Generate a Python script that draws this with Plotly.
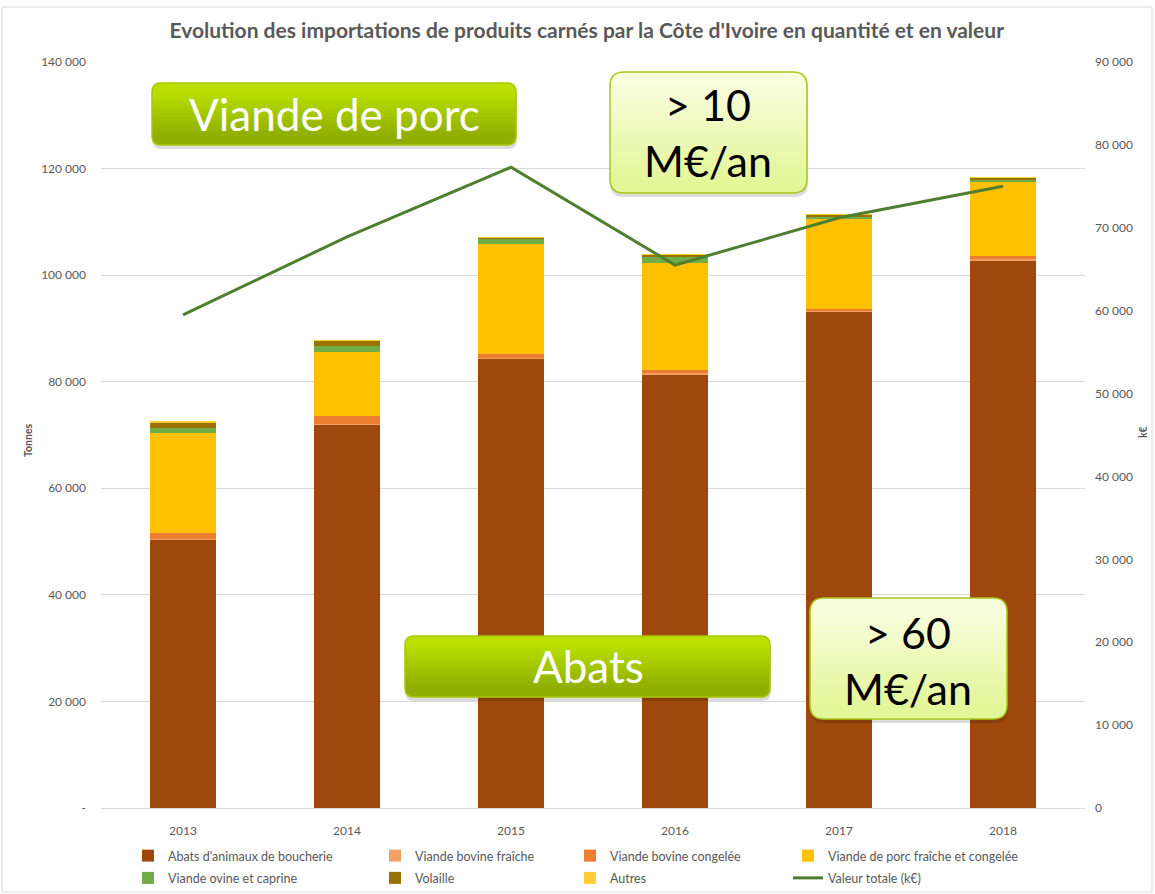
import plotly.graph_objects as go

years = ["2013", "2014", "2015", "2016", "2017", "2018"]
abats = [50300, 71900, 84300, 81400, 93100, 102800]
bovine_fraiche = [150, 200, 150, 150, 100, 150]
bovine_congelee = [1150, 1500, 750, 650, 400, 650]
porc = [18800, 12000, 20600, 20000, 17000, 13900]
ovine = [1000, 1100, 1100, 1300, 400, 300]
volaille = [1000, 1000, 200, 300, 300, 500]
autres = [50, 50, 50, 50, 50, 50]
valeur = [59500, 68900, 77300, 65500, 71200, 75000]

left_ticks = [0, 20000, 40000, 60000, 80000, 100000, 120000, 140000]
left_text = ["-", "20 000", "40 000", "60 000", "80 000", "100 000", "120 000", "140 000"]
right_ticks = [0, 10000, 20000, 30000, 40000, 50000, 60000, 70000, 80000, 90000]
right_text = ["0", "10 000", "20 000", "30 000", "40 000", "50 000", "60 000", "70 000", "80 000", "90 000"]

series = [
    ("Abats d'animaux de boucherie", abats, "#9E480E", "legend"),
    ("Viande bovine fraîche", bovine_fraiche, "#F4A064", "legend2"),
    ("Viande bovine congelée", bovine_congelee, "#ED7D31", "legend3"),
    ("Viande de porc fraîche et congelée", porc, "#FFC000", "legend4"),
    ("Viande ovine et caprine", ovine, "#70AD47", "legend"),
    ("Volaille", volaille, "#997300", "legend2"),
    ("Autres", autres, "#FFCD33", "legend3"),
]

FONT = "Lato, 'Open Sans', 'Liberation Sans', sans-serif"
GRAY = "#595959"

fig = go.Figure()
for name, vals, col, lg in series:
    fig.add_trace(go.Bar(x=years, y=vals, name=name, legend=lg, legendgroup=name,
                         marker=dict(color=col, line=dict(width=0))))
fig.add_trace(go.Scatter(x=years, y=valeur, name="Valeur totale (k€)", mode="lines", legend="legend4",
                         legendgroup="valeur", line=dict(color="#4E7F2E", width=3), yaxis="y2"))

# layout geometry (pixels)
L, R, T, B = 101, 1085, 62, 808
W, H = 1155, 894


def X(px):
    return (px - L) / (R - L)


def Y(py):
    return (B - py) / (B - T)


def rr(x0, y0, x1, y1, r):
    return (f"M {X(x0+r)},{Y(y0)} L {X(x1-r)},{Y(y0)} Q {X(x1)},{Y(y0)} {X(x1)},{Y(y0+r)} "
            f"L {X(x1)},{Y(y1-r)} Q {X(x1)},{Y(y1)} {X(x1-r)},{Y(y1)} L {X(x0+r)},{Y(y1)} "
            f"Q {X(x0)},{Y(y1)} {X(x0)},{Y(y1-r)} L {X(x0)},{Y(y0+r)} Q {X(x0)},{Y(y0)} {X(x0+r)},{Y(y0)} Z")


def hexmix(c1, c2, t):
    a = [int(c1[i:i+2], 16) for i in (1, 3, 5)]
    b = [int(c2[i:i+2], 16) for i in (1, 3, 5)]
    return "#" + "".join(f"{round(a[k] + (b[k]-a[k])*t):02x}" for k in range(3))


shapes = []
shapes.append(dict(type="rect", xref="paper", yref="paper", x0=X(2), x1=X(1152), y0=Y(892), y1=Y(7),
                   line=dict(color="#D9D9D9", width=1), layer="below"))


def box(x0, y0, x1, y1, top, bot, border, r=10):
    shapes.append(dict(type="path", xref="paper", yref="paper", path=rr(x0, y0 + 3, x1 + 1, y1 + 4, r),
                       fillcolor="rgba(0,0,0,0.14)", line=dict(width=0), layer="above"))
    shapes.append(dict(type="path", xref="paper", yref="paper", path=rr(x0, y0, x1, y1, r),
                       fillcolor=bot, line=dict(width=0), layer="above"))
    shapes.append(dict(type="path", xref="paper", yref="paper", path=rr(x0, y0, x1, y0 + 2 * r + 2, r),
                       fillcolor=top, line=dict(width=0), layer="above"))
    n = 14
    ya, yb = y0 + r, y1 - r
    for i in range(n):
        t = (i + 0.5) / n
        c = hexmix(top, bot, t)
        s0 = ya + (yb - ya) * i / n
        s1 = ya + (yb - ya) * (i + 1) / n + 0.6
        shapes.append(dict(type="rect", xref="paper", yref="paper", x0=X(x0), x1=X(x1), y0=Y(s1), y1=Y(s0),
                           fillcolor=c, line=dict(width=0), layer="above"))
    shapes.append(dict(type="path", xref="paper", yref="paper", path=rr(x0, y0, x1, y1, r),
                       fillcolor="rgba(0,0,0,0)", line=dict(color=border, width=1.5), layer="above"))


box(152, 83, 516, 145, "#BADF00", "#8FAE00", "#A8C800", r=9)
box(405, 636, 770, 697, "#BADF00", "#8FAE00", "#A8C800", r=9)
box(610, 72, 807, 193, "#F8FDDC", "#E4F69A", "#A6C81A", r=14)
box(810, 598, 1007, 719, "#F8FDDC", "#E4F69A", "#A6C81A", r=14)

annotations = [
    dict(text="Viande de porc", x=X(334), y=Y(114), xref="paper", yref="paper", showarrow=False,
         font=dict(family=FONT, size=44, color="white"), xanchor="center", yanchor="middle"),
    dict(text="Abats", x=X(588), y=Y(666), xref="paper", yref="paper", showarrow=False,
         font=dict(family=FONT, size=44, color="white"), xanchor="center", yanchor="middle"),
    dict(text="&gt; 10<br>M€/an", x=X(708), y=Y(133), xref="paper", yref="paper", showarrow=False,
         font=dict(family=FONT, size=43, color="black"), xanchor="center", yanchor="middle"),
    dict(text="&gt; 60<br>M€/an", x=X(908), y=Y(660), xref="paper", yref="paper", showarrow=False,
         font=dict(family=FONT, size=43, color="black"), xanchor="center", yanchor="middle"),
    dict(text="<b>Tonnes</b>", x=X(28), y=Y(440), xref="paper", yref="paper", showarrow=False, textangle=-90,
         font=dict(family=FONT, size=10.5, color=GRAY), xanchor="center", yanchor="middle"),
    dict(text="<b>k€</b>", x=X(1143), y=Y(432), xref="paper", yref="paper", showarrow=False, textangle=-90,
         font=dict(family=FONT, size=10.5, color=GRAY), xanchor="center", yanchor="middle"),
]


def leg(xpx):
    return dict(orientation="v", x=X(xpx), xanchor="left", y=Y(841), yanchor="top", traceorder="grouped",
                tracegroupgap=3, font=dict(family=FONT, size=12.5, color=GRAY), itemwidth=30,
                bgcolor="rgba(0,0,0,0)")


fig.update_layout(
    width=W, height=H,
    margin=dict(l=L, r=W - R, t=T, b=H - B, autoexpand=False),
    paper_bgcolor="white", plot_bgcolor="white",
    barmode="stack", bargap=0.6,
    title=dict(text="<b>Evolution des importations de produits carnés par la Côte d'Ivoire en quantité et en valeur</b>",
               x=0.508, xanchor="center", y=1 - 31 / H, yanchor="middle",
               font=dict(family=FONT, size=21, color=GRAY)),
    font=dict(family=FONT, size=12, color=GRAY),
    xaxis=dict(showgrid=False, showline=True, linecolor="#D9D9D9", ticks="", tickfont=dict(size=12, color=GRAY),
               ticklabelstandoff=12),
    yaxis=dict(range=[0, 140000], tickvals=left_ticks, ticktext=left_text, showgrid=True, gridcolor="#D9D9D9",
               gridwidth=1, zeroline=False, showline=False, tickfont=dict(size=12, color=GRAY), ticklabelstandoff=14),
    yaxis2=dict(range=[0, 90000], tickvals=right_ticks, ticktext=right_text, overlaying="y", side="right",
                showgrid=False, zeroline=False, showline=False, tickfont=dict(size=12, color=GRAY), ticklabelstandoff=9),
    legend=leg(128), legend2=leg(375), legend3=leg(570), legend4=leg(788),
    shapes=shapes,
    annotations=annotations,
)

fig.write_html("out.html", config={"displayModeBar": False},
               post_script="document.body.style.margin='0';document.body.style.overflow='hidden';")
